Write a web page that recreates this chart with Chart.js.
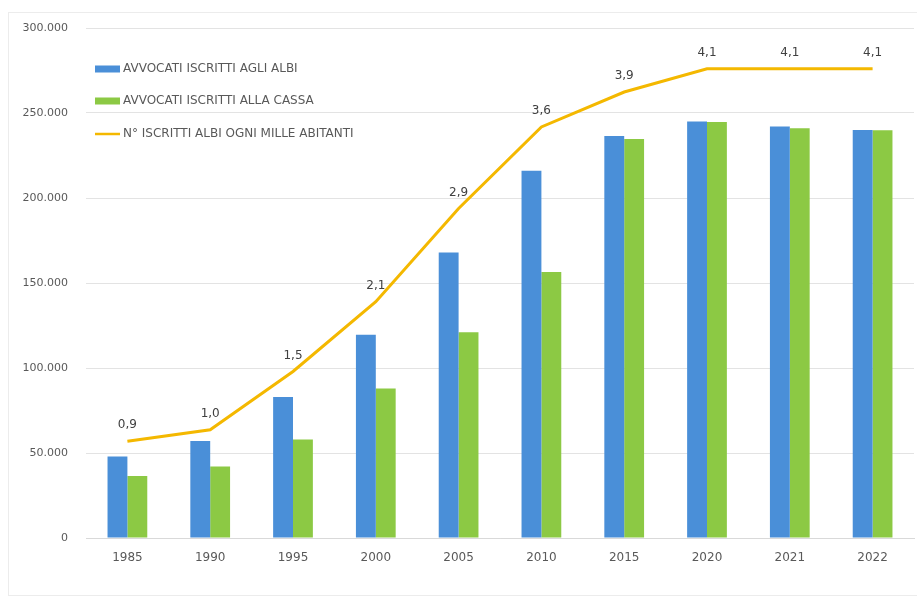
<!DOCTYPE html>
<html>
<head>
<meta charset="utf-8">
<script src="https://cdn.jsdelivr.net/npm/chart.js@4"></script>
<style>
  html, body { margin: 0; padding: 0; background: #fff; }
  #wrap { position: relative; width: 917px; height: 603px; }
  #frame { position: absolute; left: 8px; top: 12px; width: 920px; height: 582px; border: 1px solid #ececec; }
  canvas { position: absolute; left: 0; top: 0; }
</style>
</head>
<body>
<div id="wrap">
  <div id="frame"></div>
  <canvas id="chart" width="917" height="603"></canvas>
</div>
<script>
const years = ['1985', '1990', '1995', '2000', '2005', '2010', '2015', '2020', '2021', '2022'];
const iscrittiAlbi = [48000, 57000, 83000, 119500, 168000, 216000, 236500, 245000, 242000, 240000];
const iscrittiCassa = [36500, 42000, 58000, 88000, 121000, 156500, 234700, 244700, 241000, 239800];
const perMille = [0.9, 1.0, 1.5, 2.1, 2.9, 3.6, 3.9, 4.1, 4.1, 4.1];
const seriesNames = [
  'AVVOCATI ISCRITTI AGLI ALBI',
  'AVVOCATI ISCRITTI ALLA CASSA',
  'N° ISCRITTI ALBI OGNI MILLE ABITANTI',
];

const BLUE = '#4a8fd8';
const GREEN = '#8cc944';
const GOLD = '#f4b800';
const FONT = '"DejaVu Sans", sans-serif';

const thousands = (v) => String(v).replace(/\B(?=(\d{3})+(?!\d))/g, '.');

// legend drawn inside the plot, top-left
const insideLegend = {
  id: 'insideLegend',
  afterDraw(chart) {
    const ctx = chart.ctx;
    const x = 95;
    const rows = [69, 101, 134];
    ctx.save();
    ctx.font = '12px ' + FONT;
    ctx.textBaseline = 'middle';
    ctx.textAlign = 'left';
    chart.data.datasets.forEach((ds, i) => {
      const y = rows[i];
      if (ds.type === 'line') {
        ctx.strokeStyle = ds.borderColor;
        ctx.lineWidth = 2.5;
        ctx.beginPath();
        ctx.moveTo(x, y);
        ctx.lineTo(x + 25, y);
        ctx.stroke();
      } else {
        ctx.fillStyle = ds.backgroundColor;
        ctx.fillRect(x, y - 3.5, 25, 7);
      }
      ctx.fillStyle = '#595959';
      ctx.fillText(ds.label, x + 28, y);
    });
    ctx.restore();
  },
};

// value labels above the line points
const lineLabels = {
  id: 'lineLabels',
  afterDatasetsDraw(chart) {
    const ctx = chart.ctx;
    ctx.save();
    ctx.font = '12px ' + FONT;
    ctx.fillStyle = '#404040';
    ctx.textAlign = 'center';
    ctx.textBaseline = 'middle';
    chart.data.datasets.forEach((ds, di) => {
      if (ds.type !== 'line') return;
      chart.getDatasetMeta(di).data.forEach((pt, i) => {
        ctx.fillText(ds.data[i].toFixed(1).replace('.', ','), pt.x, pt.y - 16);
      });
    });
    ctx.restore();
  },
};

const config = {
  data: {
    labels: years,
    datasets: [
      {
        type: 'bar',
        label: seriesNames[0],
        data: iscrittiAlbi,
        backgroundColor: BLUE,
        yAxisID: 'y',
        order: 2,
        categoryPercentage: 0.48,
        barPercentage: 1,
      },
      {
        type: 'bar',
        label: seriesNames[1],
        data: iscrittiCassa,
        backgroundColor: GREEN,
        yAxisID: 'y',
        order: 2,
        categoryPercentage: 0.48,
        barPercentage: 1,
      },
      {
        type: 'line',
        label: seriesNames[2],
        data: perMille,
        borderColor: GOLD,
        borderWidth: 3,
        pointRadius: 0,
        tension: 0,
        yAxisID: 'y2',
        order: 1,
      },
    ],
  },
  options: {
    responsive: false,
    animation: false,
    layout: { padding: { left: 8, right: 3, top: 28, bottom: 0 } },
    plugins: {
      legend: { display: false },
      tooltip: { enabled: false },
    },
    scales: {
      x: {
        grid: { display: false, drawTicks: false },
        border: { color: '#d9d9d9' },
        ticks: { color: '#595959', font: { family: FONT, size: 12 }, padding: 13 },
        afterFit(s) { s.height = 65; },
      },
      y: {
        min: 0,
        max: 300000,
        ticks: {
          stepSize: 50000,
          color: '#595959',
          font: { family: FONT, size: 11 },
          padding: 18,
          callback: (v) => thousands(v),
        },
        grid: { color: '#e3e3e3', drawTicks: false },
        border: { display: false },
        afterFit(s) { s.width = 78; },
      },
      // hidden secondary axis for the per-thousand line
      y2: {
        display: false,
        min: 0.07,
        max: 4.45,
      },
    },
  },
  plugins: [insideLegend, lineLabels],
};

new Chart(document.getElementById('chart'), config);
</script>
</body>
</html>
